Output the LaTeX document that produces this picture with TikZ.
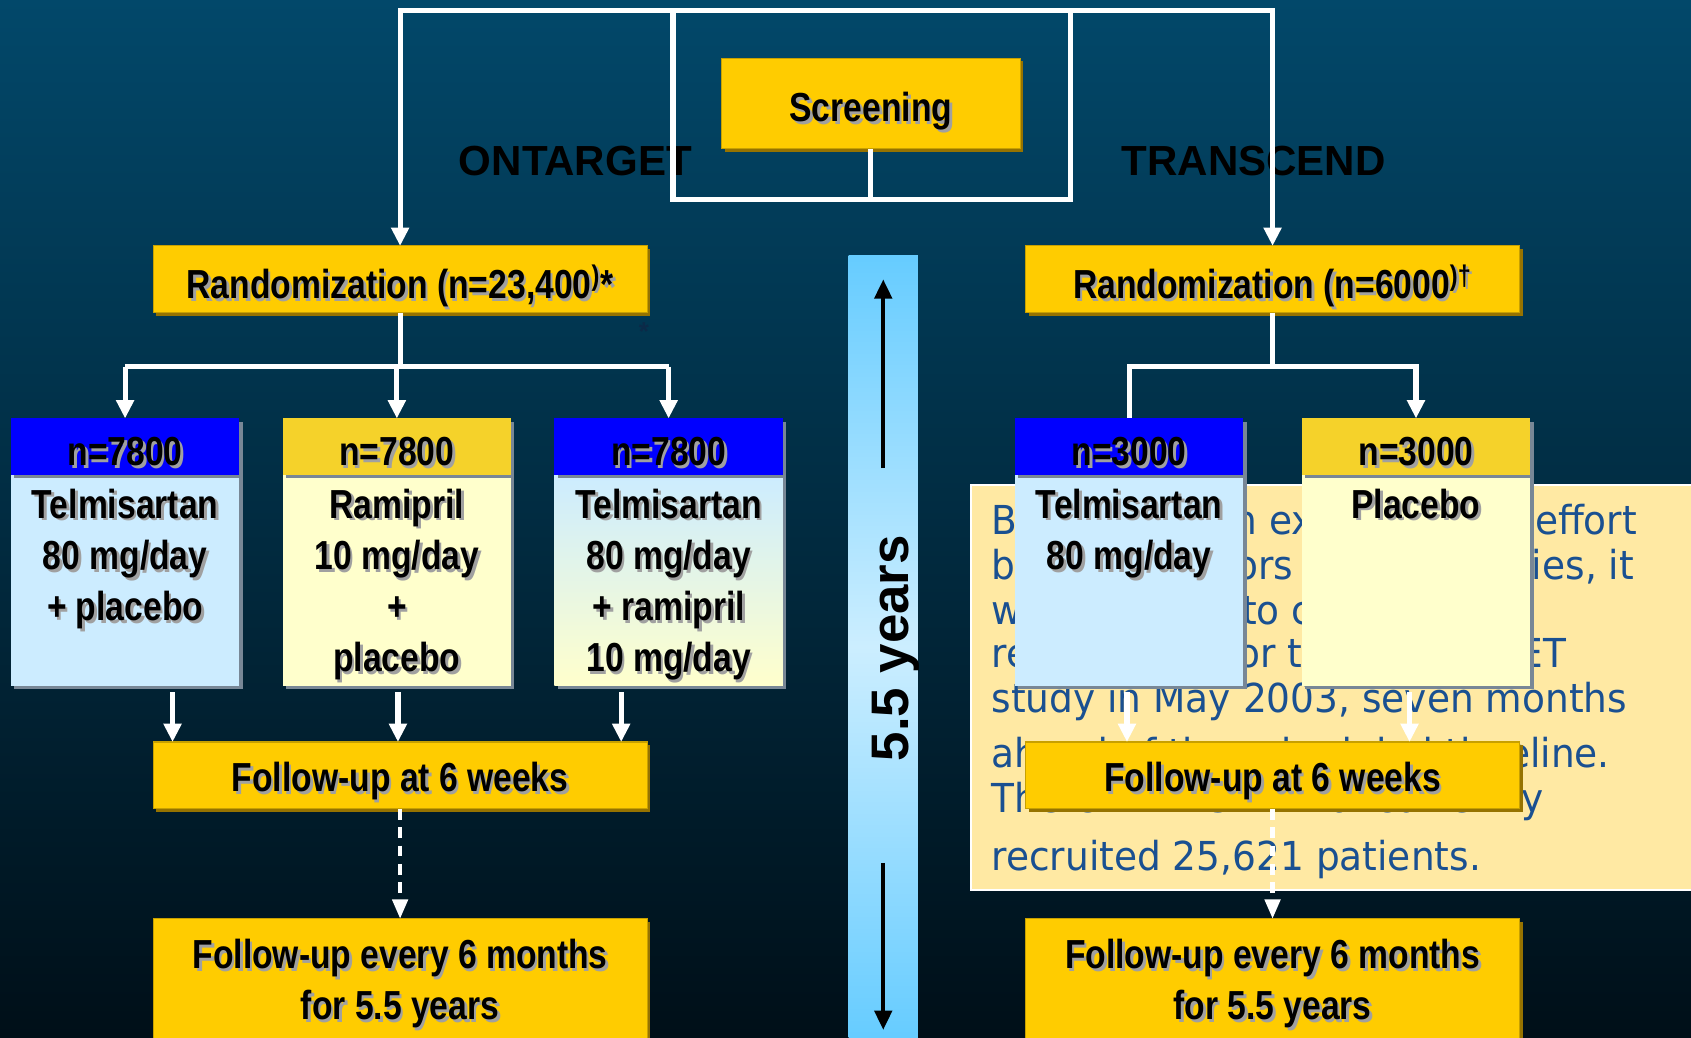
\documentclass[tikz,border=0pt]{standalone}
\usepackage{fontspec}
\setmainfont{Liberation Sans}
\newfontfamily\boxfont{Liberation Sans}[FakeStretch=0.83]
\newfontfamily\notefont{DejaVu Sans}[FakeStretch=0.94]
\usetikzlibrary{arrows.meta,shadows}

% palette
\definecolor{bgtop}{RGB}{2,72,106}
\definecolor{bgbot}{RGB}{0,15,24}
\definecolor{gold}{RGB}{255,204,0}
\definecolor{goldedge}{RGB}{200,160,0}
\definecolor{goldsh}{RGB}{150,115,0}
\definecolor{headgold}{RGB}{245,210,42}
\definecolor{hblue}{RGB}{0,0,255}
\definecolor{lblue}{RGB}{204,236,255}
\definecolor{lyell}{RGB}{255,255,204}
\definecolor{greysh}{RGB}{120,135,150}
\definecolor{txtsh}{RGB}{160,160,160}
\definecolor{notebg}{RGB}{255,233,163}
\definecolor{notetxt}{RGB}{26,80,145}
\definecolor{barcol}{RGB}{102,204,255}
\definecolor{barmid}{RGB}{204,238,255}
\definecolor{starcol}{RGB}{11,42,72}

% black text with a grey drop shadow
\newcommand\shtext[1]{\makebox[0pt][l]{\hspace*{1.2pt}\raisebox{-1.2pt}[0pt][0pt]{\textcolor{txtsh}{#1}}}#1}
\newcommand\firstline{\rule{0pt}{14pt}}

\tikzset{
  box/.style={rectangle, inner sep=0pt, outer sep=0pt, anchor=north west},
  goldbox/.style={box, fill=gold, draw=goldedge, line width=0.5pt,
    minimum width=229pt, minimum height=31pt,
    general shadow={fill=goldsh, draw=none, shadow xshift=1.5pt, shadow yshift=-1.5pt}},
  armhead/.style={box, minimum width=106pt, minimum height=26pt,
    general shadow={fill=greysh, draw=none, shadow xshift=1.5pt, shadow yshift=-1.5pt}},
  armbody/.style={box, minimum width=106pt, minimum height=98pt,
    general shadow={fill=greysh, draw=none, shadow xshift=1.5pt, shadow yshift=-1.5pt}},
  boxtxt/.style={font=\boxfont\bfseries\fontsize{18.8pt}{23.75pt}\selectfont,
    text=black, inner sep=0pt, outer sep=0pt},
  title/.style={font=\bfseries\fontsize{19.5pt}{22pt}\selectfont, text=black,
    inner sep=0pt, anchor=base},
  notetext/.style={font=\notefont\fontsize{18.5pt}{22pt}\selectfont, text=notetxt,
    inner sep=0pt, anchor=base west},
  wire/.style={draw=white, line width=2.4pt},
  arr/.style={wire, -{Triangle[width=8pt,length=8.5pt]}},
  dasharr/.style={draw=white, line width=2pt, dash pattern=on 5pt off 3.5pt,
    -{Triangle[width=7pt,length=9pt]}},
  timearrow/.style={draw=black, line width=2pt, -{Triangle[width=8pt,length=9pt]}}
}

\begin{document}
\begin{tikzpicture}[x=0.5pt,y=-0.5pt]
\useasboundingbox (0,0) rectangle (1568,962);
\clip (0,0) rectangle (1568,962);

% background
\shade[top color=bgtop, bottom color=bgbot] (0,0) rectangle (1568,962);

% explanatory note behind the TRANSCEND arms
\node[box, fill=notebg, draw=white, line width=1pt,
      minimum width=345pt, minimum height=187.5pt] (note) at (900,450) {};
\foreach \yy/\tx [count=\i] in {
    495.7/Because of an extraordinary effort,
    537.5/{by investigators in 40 countries, it},
    579.2/was possible to complete,
    619.4/recruitment for the ONTARGET,
    661.1/{study in May 2003, seven months},
    712.1/ahead of the scheduled timeline.,
    753.8/The ONTARGET trial currently,
    807.6/{recruited 25,621 patients.}}
  \node[notetext] (nl\i) at (919,\yy) {\tx};

% trial names
\node[title] (ont) at (533.5,163) {ONTARGET};
\node[title] (tra) at (1162.5,163) {TRANSCEND};

% time bar
\node[box, top color=barcol, bottom color=barcol, middle color=barmid,
      minimum width=32pt, minimum height=362.5pt] (bar) at (787,237) {};
\coordinate (upa) at (819,434);
\coordinate (upb) at (819,259);
\coordinate (dna) at (819,800);
\coordinate (dnb) at (819,955);
\draw[timearrow] (upa) -- (upb);
\draw[timearrow] (dna) -- (dnb);
\node[font=\bfseries\fontsize{24.5pt}{28pt}\selectfont, text=black, inner sep=0pt,
      rotate=90, anchor=base] (yrs) at (842,601) {5.5 years};

% screening and randomization
\node[goldbox, minimum width=138.5pt, minimum height=42pt] (scr) at (669,54) {};
\node[boxtxt, anchor=base] (scrt) at (807.5,113) {\shtext{Screening}};

\node[goldbox] (rl) at (142,228) {};
\node[boxtxt, anchor=base] (rlt) at (371,277) {\shtext{Randomization (n=23,400\textsuperscript{)}*}};
\node[font=\bfseries\fontsize{12pt}{14pt}\selectfont, text=starcol, inner sep=0pt,
      anchor=base] (ast) at (597,316) {*};

\node[goldbox] (rr) at (951,228) {};
\node[boxtxt, anchor=base] (rrt) at (1180,277) {\shtext{Randomization (n=6000\textsuperscript{)†}}};

% treatment arms: bodies
\node[armbody, fill=lblue] (b1) at (10,440) {};
\node[armbody, fill=lyell] (b2) at (262,440) {};
\node[armbody, top color=lblue, bottom color=lyell] (b3) at (514,440) {};
\node[armbody, fill=lblue] (b4) at (941,440) {};
\node[armbody, fill=lyell] (b5) at (1207,440) {};

% treatment arms: headers
\node[armhead, fill=hblue] (h1) at (10,388) {};
\node[armhead, fill=headgold] (h2) at (262,388) {};
\node[armhead, fill=hblue] (h3) at (514,388) {};
\node[armhead, fill=hblue] (h4) at (941,388) {};
\node[armhead, fill=headgold] (h5) at (1207,388) {};

\node[boxtxt, anchor=base] (h1t) at (h1.center |- 0,432) {\shtext{n=7800}};
\node[boxtxt, anchor=base] (h2t) at (h2.center |- 0,432) {\shtext{n=7800}};
\node[boxtxt, anchor=base] (h3t) at (h3.center |- 0,432) {\shtext{n=7800}};
\node[boxtxt, anchor=base] (h4t) at (h4.center |- 0,432) {\shtext{n=3000}};
\node[boxtxt, anchor=base] (h5t) at (h5.center |- 0,432) {\shtext{n=3000}};

\node[boxtxt, anchor=north, align=center] (b1t) at (b1.center |- 0,452.5)
  {\firstline\shtext{Telmisartan}\\\shtext{80 mg/day}\\\shtext{+ placebo}};
\node[boxtxt, anchor=north, align=center] (b2t) at (b2.center |- 0,452.5)
  {\firstline\shtext{Ramipril}\\\shtext{10 mg/day}\\\shtext{+}\\\shtext{placebo}};
\node[boxtxt, anchor=north, align=center] (b3t) at (b3.center |- 0,452.5)
  {\firstline\shtext{Telmisartan}\\\shtext{80 mg/day}\\\shtext{+ ramipril}\\\shtext{10 mg/day}};
\node[boxtxt, anchor=north, align=center] (b4t) at (b4.center |- 0,452.5)
  {\firstline\shtext{Telmisartan}\\\shtext{80 mg/day}};
\node[boxtxt, anchor=north, align=center] (b5t) at (b5.center |- 0,452.5)
  {\firstline\shtext{Placebo}};

% follow-up boxes
\node[goldbox] (fl) at (142,688) {};
\node[boxtxt, anchor=base] (flt) at (371,734) {\shtext{Follow-up at 6 weeks}};
\node[goldbox] (fr) at (951,688) {};
\node[boxtxt, anchor=base] (frt) at (1180,734) {\shtext{Follow-up at 6 weeks}};

\node[goldbox, minimum height=100pt] (ml) at (142,852) {};
\node[boxtxt, anchor=north, align=center] (mlt) at (371,870)
  {\firstline\shtext{Follow-up every 6 months}\\\shtext{for 5.5 years}};
\node[goldbox, minimum height=100pt] (mr) at (951,852) {};
\node[boxtxt, anchor=north, align=center] (mrt) at (1180,870)
  {\firstline\shtext{Follow-up every 6 months}\\\shtext{for 5.5 years}};

% screening bracket and paths to both randomizations
\coordinate (top) at (0,10);
\coordinate (jl) at (624,185);
\coordinate (jr) at (993,185);
\draw[wire] (scr.south) -- (scr.south |- jl);
\draw[wire] (jl) rectangle (jr |- top);
\draw[arr] (jl |- top) -| (rl.north);
\draw[arr] (jr |- top) -| (rr.north);

% ONTARGET split into three arms
\coordinate (lsplit) at (371,340);
\draw[wire] (rl.south) -- (lsplit);
\draw[wire] (lsplit -| h1.north) -- (lsplit -| h3.north);
\draw[arr] (lsplit -| h1.north) -- (h1.north);
\draw[arr] (lsplit -| h2.north) -- (h2.north);
\draw[arr] (lsplit -| h3.north) -- (h3.north);

% TRANSCEND split into two arms
\coordinate (rsplit) at (1180,340);
\draw[wire] (rr.south) -- (rsplit);
\draw[wire] (rsplit) -| (h4.north);
\draw[arr] (rsplit) -| (h5.north);

% arms to first follow-up
\draw[arr, shorten <=3pt] (b1.south -| 160,0) -- (fl.north -| 160,0);
\draw[arr, shorten <=3pt] (b2.south -| 369,0) -- (fl.north -| 369,0);
\draw[arr, shorten <=3pt] (b3.south -| 576,0) -- (fl.north -| 576,0);
\draw[arr, shorten <=3pt] (b4.south -| 1045,0) -- (fr.north -| 1045,0);
\draw[arr, shorten <=3pt] (b5.south -| 1307,0) -- (fr.north -| 1307,0);

% first follow-up to long-term follow-up
\draw[dasharr] (fl.south) -- (ml.north);
\draw[dasharr] (fr.south) -- (mr.north);
\end{tikzpicture}
\end{document}
